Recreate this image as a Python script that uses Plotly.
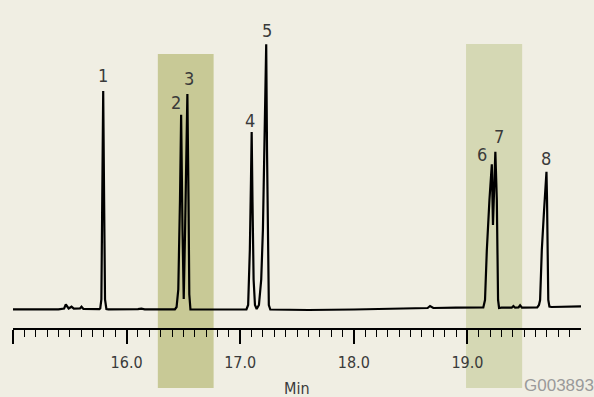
import numpy as np
import plotly.graph_objects as go

# ---- data ----
# chromatogram trace: retention time (min) and detector signal (arbitrary units, baseline ~0)
time_min = [
    15.000, 15.400, 15.450, 15.465, 15.490, 15.515, 15.535, 15.590, 15.603, 15.620, 15.760,
    15.768, 15.778, 15.786, 15.794, 15.802, 15.810, 15.822,
    15.840, 16.100, 16.130, 16.160, 16.425,
    16.440, 16.455, 16.470, 16.480, 16.492, 16.503, 16.515, 16.526, 16.535, 16.545, 16.552, 16.562,
    16.800, 17.055,
    17.070, 17.085, 17.095, 17.101, 17.108, 17.118, 17.130, 17.145, 17.165, 17.185, 17.200,
    17.215, 17.229, 17.236, 17.243, 17.252, 17.265,
    17.600, 18.000, 18.300, 18.600, 18.650, 18.671, 18.700, 18.900, 19.140,
    19.155, 19.171, 19.194, 19.215, 19.225, 19.235, 19.246, 19.259, 19.264, 19.270, 19.279,
    19.300, 19.390, 19.405, 19.420, 19.450, 19.464, 19.480, 19.615,
    19.630, 19.640, 19.655, 19.675, 19.696, 19.701, 19.705, 19.712, 19.722,
    19.740, 20.000,
]
signal = [
    0.2, 0.2, 1.0, 5.0, 1.0, 2.8, 0.8, 1.0, 2.8, 0.5, 0.3,
    1.0, 10.0, 110.0, 218.5, 110.0, 10.0, 0.5,
    0.2, 0.3, 0.8, 0.2, 0.2,
    2.5, 20.0, 110.0, 194.8, 80.0, 10.5, 80.0, 160.0, 215.5, 110.0, 15.0, 0.2,
    0.0, 0.0,
    4.5, 60.0, 130.0, 177.5, 110.0, 30.0, 4.5, 0.5, 4.5, 30.0, 80.0,
    170.0, 265.2, 160.0, 50.0, 4.5, 0.0,
    -0.5, 0.0, 0.5, 1.0, 1.5, 3.5, 1.5, 1.8, 2.0,
    9.5, 59.5, 109.5, 145.2, 84.5, 119.5, 157.8, 109.5, 59.5, 9.5, 1.5,
    1.8, 1.8, 3.5, 1.8, 2.0, 4.2, 1.8, 2.2,
    4.5, 9.5, 59.5, 99.5, 137.8, 109.5, 59.5, 9.5, 3.0,
    2.5, 3.2,
]

# numbered peaks
peak_labels = ["1", "2", "3", "4", "5", "6", "7", "8"]
peak_rt = [15.794, 16.480, 16.535, 17.101, 17.229, 19.215, 19.246, 19.696]
peak_height = [218.5, 194.8, 215.5, 177.5, 265.2, 145.2, 157.8, 137.8]

# highlighted retention windows (min)
window_start = [16.275, 18.988]
window_end = [16.766, 19.482]

# axis ticks
major_ticks = [15.0, 16.0, 17.0, 18.0, 19.0]
major_tick_text = ["", "16.0", "17.0", "18.0", "19.0"]

# ---- styling ----
BG = "#f0eee3"
WINDOW_COLORS = ["#c8c996", "#d5d8b4"]
WINDOW_TOPS = [255.5, 265.5]
Y_RANGE = [-78.5, 309.5]
TEXT = "#3a3a3a"
NARROW = "DejaVu Sans Condensed, Liberation Sans Narrow, sans-serif"

# label offsets (pixels) relative to peak apex
label_dx = [0, -5.5, 2, -1.7, 0.7, -9.7, 3.7, 0]
label_dy = [16, 12, 16, 12, 14, 10, 15, 13]

fig = go.Figure()
fig.add_trace(go.Scatter(
    x=time_min, y=signal, mode="lines",
    line=dict(color="#000000", width=2.2),
    hoverinfo="skip", showlegend=False,
))

for xs, xe, c, top in zip(window_start, window_end, WINDOW_COLORS, WINDOW_TOPS):
    fig.add_shape(type="rect", xref="x", yref="y", x0=xs, x1=xe, y0=Y_RANGE[0], y1=top,
                  fillcolor=c, line=dict(width=0), layer="below")

for lab, rt, h, dx, dy in zip(peak_labels, peak_rt, peak_height, label_dx, label_dy):
    fig.add_annotation(x=rt, y=h, text=lab, showarrow=False, xanchor="center", yanchor="middle",
                       xshift=dx, yshift=dy,
                       font=dict(family=NARROW, size=18, color=TEXT))

fig.add_annotation(x=17.5, xref="x", y=-0.032, yref="paper", text="Min", showarrow=False,
                   xanchor="center", yanchor="bottom",
                   font=dict(family=NARROW, size=16, color=TEXT))
fig.add_annotation(x=1.026, xref="paper", y=0.036, yref="paper", text="G003893", showarrow=False,
                   xanchor="right", yanchor="top",
                   font=dict(family="Liberation Sans, Arial, sans-serif", size=17, color="#9a9a9a"))

minor_vals = [round(v, 1) for v in np.arange(15.1, 20.0, 0.1) if abs(v - round(v)) > 1e-6]

fig.update_layout(
    width=594, height=397,
    margin=dict(l=13, r=13, t=0, b=9),
    paper_bgcolor=BG, plot_bgcolor=BG,
    xaxis=dict(
        range=[15.0, 20.0], anchor="free", position=0.152,
        showgrid=False, zeroline=False,
        showline=True, linecolor="#000000", linewidth=2,
        tickmode="array", tickvals=major_ticks, ticktext=major_tick_text,
        ticks="outside", ticklen=14, tickwidth=1.6, tickcolor="#000000",
        ticklabelstandoff=5,
        tickfont=dict(family=NARROW, size=16, color=TEXT),
        minor=dict(tickmode="array", tickvals=minor_vals, ticks="outside", ticklen=7,
                   tickwidth=1.4, tickcolor="#000000", showgrid=False),
    ),
    yaxis=dict(range=Y_RANGE, visible=False, showgrid=False, zeroline=False),
)

fig.write_html("out.html", config={"displayModeBar": False},
               post_script="document.body.style.margin='0';document.body.style.overflow='hidden';")
